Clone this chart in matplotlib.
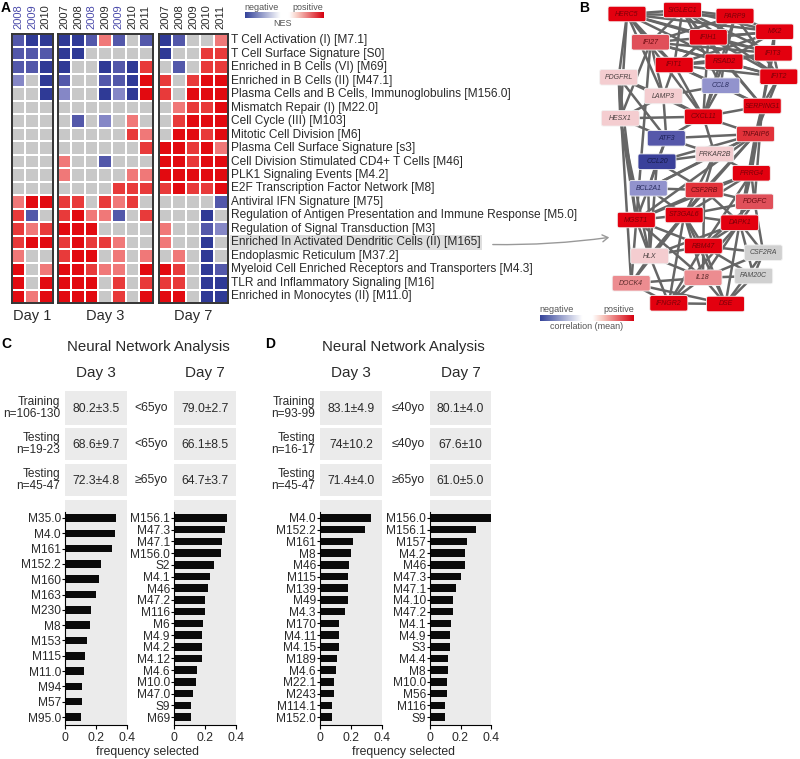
import numpy as np
import matplotlib
matplotlib.use('Agg')
import matplotlib.pyplot as plt
from matplotlib.colors import ListedColormap, BoundaryNorm, LinearSegmentedColormap
from matplotlib.patches import Rectangle, FancyBboxPatch, FancyArrowPatch

plt.rcParams['font.family'] = ['Liberation Sans', 'DejaVu Sans']

# ---------------- DATA ----------------
modules = [
    "T Cell Activation (I) [M7.1]",
    "T Cell Surface Signature [S0]",
    "Enriched in B Cells (VI) [M69]",
    "Enriched in B Cells (II) [M47.1]",
    "Plasma Cells and B Cells, Immunoglobulins [M156.0]",
    "Mismatch Repair (I) [M22.0]",
    "Cell Cycle (III) [M103]",
    "Mitotic Cell Division [M6]",
    "Plasma Cell Surface Signature [s3]",
    "Cell Division Stimulated CD4+ T Cells [M46]",
    "PLK1 Signaling Events [M4.2]",
    "E2F Transcription Factor Network [M8]",
    "Antiviral IFN Signature [M75]",
    "Regulation of Antigen Presentation and Immune Response [M5.0]",
    "Regulation of Signal Transduction [M3]",
    "Enriched In Activated Dendritic Cells (II) [M165]",
    "Endoplasmic Reticulum [M37.2]",
    "Myeloid Cell Enriched Receptors and Transporters [M4.3]",
    "TLR and Inflammatory Signaling [M16]",
    "Enriched in Monocytes (II) [M11.0]",
]
highlight_module = "Enriched In Activated Dendritic Cells (II) [M165]"

day1_years = ["2008", "2009", "2010"]
day3_years = ["2007", "2008", "2008", "2009", "2009", "2010", "2011"]
day7_years = ["2007", "2008", "2009", "2010", "2011"]
day1_blue_years = [True, True, False]
day3_blue_years = [False, False, True, False, True, False, False]
day7_blue_years = [False, False, False, False, False]

# NES level: -3 strong negative ... 0 not significant ... 3 strong positive
day1_nes = [
    [-2, -3, -3], [-2, -2, -2], [-2, -2, -3], [-1, 0, -3], [0, 0, -3],
    [0, 0, 0], [0, 0, 0], [0, 0, 0], [0, 0, 0], [0, 0, 0],
    [0, 0, 0], [0, 0, 0], [1, 3, 3], [2, -2, 0], [2, 1, 2],
    [2, 3, 3], [1, 0, 0], [3, 0, 1], [3, 0, 3], [3, 1, 3],
]
day3_nes = [
    [-3, -3, -2, 1, -2, 0, -2],
    [-3, -3, 0, 0, 0, 0, 0],
    [-3, 0, 0, -3, -2, -3, 2],
    [-2, 0, 0, -2, -2, -3, 3],
    [-1, 0, 0, -3, -1, -3, 3],
    [0, 0, 0, 0, 0, 0, 0],
    [0, -2, 0, -1, 0, 1, 0],
    [0, 0, 0, 0, 0, 2, 1],
    [0, 0, 0, 0, 0, 0, 2],
    [1, 0, 0, -2, 0, 0, 0],
    [1, 0, 0, 0, 0, 1, 1],
    [0, 0, 0, 0, 2, 2, 2],
    [2, 2, 0, 2, 1, 2, 0],
    [2, 3, 1, 1, -2, 0, 2],
    [3, 3, 3, 0, 0, 0, 0],
    [2, 3, 2, 2, 1, 0, 0],
    [2, 3, 3, 0, 1, 0, 1],
    [3, 3, 2, 1, 1, 0, 3],
    [3, 3, 3, 0, 2, 0, 2],
    [3, 3, 3, 0, 2, 0, 3],
]
day7_nes = [
    [-3, -2, 0, 0, 1], [-3, 0, 0, 2, 2], [0, -2, 0, 2, 2], [2, 0, 2, 3, 3],
    [2, 0, 3, 3, 3], [0, 1, 2, 2, 3], [0, 2, 3, 3, 3], [0, 3, 3, 2, 3],
    [3, 3, 2, 3, 1], [3, 3, 2, 3, 3], [3, 3, 3, 3, 3], [2, 3, 2, 2, 3],
    [0, 0, 0, 0, -2], [0, 0, 0, -3, 0], [1, 0, 0, -2, -1], [1, 0, 0, -3, 0],
    [0, 1, 0, -3, 0], [3, 2, 0, -3, -2], [2, 2, 0, -3, -3], [3, 3, 0, -3, -3],
]

# network (panel B): gene, correlation level
genes = ["HERC5", "SIGLEC1", "PARP9", "MX2", "IFI27", "IFIH1", "IFIT3", "IFIT1",
         "RSAD2", "PDGFRL", "IFIT2", "CCL8", "LAMP3", "SERPING1", "HESX1", "CXCL11",
         "TNFAIP6", "ATF3", "PRKAR2B", "CCL20", "PRRG4", "BCL2A1", "CSF2RB", "PDGFC",
         "MGST1", "ST3GAL6", "DAPK1", "RBM47", "CSF2RA", "HLX", "IL18", "FAM20C",
         "DOCK4", "IFNGR2", "DSE"]
gene_corr = ["R3", "R3", "R3", "R3", "R2", "R3", "R3", "R3",
             "R3", "P0", "R3", "B1", "P0", "R3", "P0", "R3",
             "R2b", "B2", "P0", "B3", "R3", "B1", "R2b", "R2",
             "R3", "R3", "R3", "R3", "G", "P0", "P1", "G",
             "P1", "R3", "R3"]
edges = [
    "HERC5-SIGLEC1", "HERC5-PARP9", "HERC5-MX2", "HERC5-IFIH1", "HERC5-IFIT1", "HERC5-RSAD2",
    "HERC5-IFIT3", "HERC5-IFI27", "HERC5-HESX1", "HERC5-PDGFRL", "HERC5-LAMP3", "HERC5-CXCL11",
    "SIGLEC1-PARP9", "SIGLEC1-MX2", "SIGLEC1-IFIT1", "SIGLEC1-RSAD2", "SIGLEC1-IFIT3",
    "SIGLEC1-IFI27", "SIGLEC1-SERPING1", "SIGLEC1-IFIT2", "SIGLEC1-CCL8",
    "PARP9-MX2", "PARP9-IFIH1", "PARP9-IFIT1", "PARP9-RSAD2", "PARP9-IFIT2", "PARP9-IFI27",
    "PARP9-CXCL11", "MX2-IFIH1", "MX2-IFIT1", "MX2-RSAD2", "MX2-IFIT3", "MX2-SERPING1",
    "MX2-IFI27", "IFI27-IFIT1", "IFI27-RSAD2", "IFI27-IFIT3", "IFI27-IFIT2", "IFI27-LAMP3",
    "IFIH1-IFIT3", "IFIH1-IFIT1", "IFIH1-RSAD2", "IFIH1-IFIT2", "IFIH1-CXCL11",
    "IFIT3-IFIT1", "IFIT3-RSAD2", "IFIT3-IFIT2", "IFIT3-SERPING1",
    "IFIT1-RSAD2", "IFIT1-IFIT2", "IFIT1-CCL8", "IFIT1-CXCL11", "IFIT1-LAMP3", "IFIT1-SERPING1",
    "RSAD2-IFIT2", "RSAD2-CCL8", "RSAD2-SERPING1", "RSAD2-CXCL11",
    "IFIT2-SERPING1", "IFIT2-TNFAIP6", "CCL8-CXCL11", "CCL8-SERPING1", "CCL8-LAMP3",
    "LAMP3-CXCL11", "LAMP3-HESX1", "LAMP3-ATF3", "LAMP3-PDGFRL",
    "PDGFRL-HESX1", "PDGFRL-CXCL11", "PDGFRL-MGST1", "PDGFRL-ATF3", "PDGFRL-DOCK4",
    "HESX1-CXCL11", "HESX1-ATF3", "HESX1-MGST1", "HESX1-HLX",
    "CXCL11-SERPING1", "CXCL11-TNFAIP6", "CXCL11-ATF3", "CXCL11-PRKAR2B",
    "SERPING1-TNFAIP6", "SERPING1-PRRG4", "SERPING1-DAPK1", "SERPING1-PDGFC",
    "TNFAIP6-PRKAR2B", "TNFAIP6-CSF2RB", "TNFAIP6-PRRG4", "TNFAIP6-ST3GAL6", "TNFAIP6-MGST1",
    "TNFAIP6-BCL2A1", "TNFAIP6-CCL20", "TNFAIP6-DAPK1", "TNFAIP6-ATF3",
    "ATF3-CCL20", "ATF3-PRKAR2B", "ATF3-BCL2A1",
    "CCL20-PRKAR2B", "CCL20-BCL2A1", "CCL20-CSF2RB", "CCL20-HLX",
    "PRKAR2B-PRRG4", "PRKAR2B-CSF2RB", "PRKAR2B-BCL2A1", "PRKAR2B-ST3GAL6",
    "PRRG4-CSF2RB", "PRRG4-PDGFC", "PRRG4-ST3GAL6", "PRRG4-MGST1", "PRRG4-DAPK1", "PRRG4-RBM47",
    "BCL2A1-CSF2RB", "BCL2A1-MGST1", "BCL2A1-ST3GAL6", "BCL2A1-HLX",
    "CSF2RB-ST3GAL6", "CSF2RB-MGST1", "CSF2RB-DAPK1", "CSF2RB-PDGFC", "CSF2RB-RBM47",
    "PDGFC-DAPK1", "PDGFC-ST3GAL6", "PDGFC-CSF2RA", "PDGFC-RBM47",
    "MGST1-ST3GAL6", "MGST1-HLX", "MGST1-RBM47", "MGST1-DOCK4", "MGST1-IL18",
    "ST3GAL6-DAPK1", "ST3GAL6-RBM47", "ST3GAL6-HLX", "ST3GAL6-IL18", "ST3GAL6-IFNGR2", "ST3GAL6-DSE",
    "DAPK1-RBM47", "DAPK1-CSF2RA", "DAPK1-IL18", "DAPK1-FAM20C", "DAPK1-DSE", "DAPK1-HLX",
    "RBM47-HLX", "RBM47-IL18", "RBM47-CSF2RA", "RBM47-DSE", "RBM47-IFNGR2", "RBM47-FAM20C",
    "HLX-DOCK4", "HLX-IL18", "HLX-IFNGR2", "HLX-CSF2RB",
    "IL18-DOCK4", "IL18-IFNGR2", "IL18-DSE", "IL18-FAM20C", "IL18-CSF2RA",
    "DOCK4-IFNGR2", "DOCK4-CSF2RB", "DOCK4-DSE", "IFNGR2-DSE", "IFNGR2-DAPK1",
    "DSE-FAM20C", "DSE-CSF2RA", "CSF2RA-FAM20C", "IFI27-MGST1", "IFI27-HESX1",
]

# Panel C / D tables
c_row_labels = ["Training\nn=106-130", "Testing\nn=19-23", "Testing\nn=45-47"]
c_day3_acc = ["80.2±3.5", "68.6±9.7", "72.3±4.8"]
c_age = ["<65yo", "<65yo", "≥65yo"]
c_day7_acc = ["79.0±2.7", "66.1±8.5", "64.7±3.7"]

d_row_labels = ["Training\nn=93-99", "Testing\nn=16-17", "Testing\nn=45-47"]
d_day3_acc = ["83.1±4.9", "74±10.2", "71.4±4.0"]
d_age = ["≤40yo", "≤40yo", "≥65yo"]
d_day7_acc = ["80.1±4.0", "67.6±10", "61.0±5.0"]

# frequency selected bars
c3_mods = ["M35.0", "M4.0", "M161", "M152.2", "M160", "M163", "M230", "M8", "M153",
           "M115", "M11.0", "M94", "M57", "M95.0"]
c3_freq = [0.33, 0.32, 0.30, 0.23, 0.22, 0.20, 0.17, 0.16, 0.14, 0.13, 0.12, 0.11, 0.11, 0.10]
c7_mods = ["M156.1", "M47.3", "M47.1", "M156.0", "S2", "M4.1", "M46", "M47.2", "M116",
           "M6", "M4.9", "M4.2", "M4.12", "M4.6", "M10.0", "M47.0", "S9", "M69"]
c7_freq = [0.34, 0.33, 0.31, 0.30, 0.26, 0.23, 0.22, 0.20, 0.20, 0.19, 0.18, 0.18, 0.18,
           0.15, 0.14, 0.12, 0.11, 0.11]
d3_mods = ["M4.0", "M152.2", "M161", "M8", "M46", "M115", "M139", "M49", "M4.3", "M170",
           "M4.11", "M4.15", "M189", "M4.6", "M22.1", "M243", "M114.1", "M152.0"]
d3_freq = [0.33, 0.29, 0.21, 0.20, 0.19, 0.18, 0.18, 0.18, 0.16, 0.12, 0.12, 0.12, 0.11,
           0.10, 0.09, 0.09, 0.08, 0.08]
d7_mods = ["M156.0", "M156.1", "M157", "M4.2", "M46", "M47.3", "M47.1", "M4.10", "M47.2",
           "M4.1", "M4.9", "S3", "M4.4", "M8", "M10.0", "M56", "M116", "S9"]
d7_freq = [0.40, 0.30, 0.24, 0.23, 0.23, 0.20, 0.17, 0.15, 0.15, 0.14, 0.13, 0.13, 0.12,
           0.12, 0.11, 0.11, 0.10, 0.10]

# ---------------- STYLE / LAYOUT ----------------
W, H = 800, 759
TXT = '#2a2a2a'
fig = plt.figure(figsize=(8, 7.59), dpi=100)


def add_ax(x0, y0, x1, y1, **kw):
    return fig.add_axes([x0 / W, 1 - y1 / H, (x1 - x0) / W, (y1 - y0) / H], **kw)


def ftext(x, y, s, **kw):
    kw.setdefault('color', TXT)
    return fig.text(x / W, 1 - y / H, s, **kw)


def frect(x0, y0, x1, y1, color):
    fig.add_artist(Rectangle((x0 / W, 1 - y1 / H), (x1 - x0) / W, (y1 - y0) / H,
                             transform=fig.transFigure, facecolor=color,
                             edgecolor='none', zorder=0))


# ---------------- PANEL A ----------------
nes_colors = ['#2f3a96', '#5358aa', '#8587c6', '#c8c8c8', '#f07878', '#e83a3a', '#e20a10']
nes_cmap = ListedColormap(nes_colors)
nes_norm = BoundaryNorm(np.arange(-3.5, 4.5, 1), nes_cmap.N)

blocks = [
    ((11.7, 52.7), day1_nes, day1_years, day1_blue_years, "Day 1"),
    ((57.7, 152.7), day3_nes, day3_years, day3_blue_years, "Day 3"),
    ((158.5, 227.5), day7_nes, day7_years, day7_blue_years, "Day 7"),
]
hm_top, hm_bot = 33.5, 303.0
for (x0, x1), vals, years, blues, dlabel in blocks:
    ax = add_ax(x0, hm_top, x1, hm_bot)
    arr = np.array(vals)
    ax.pcolormesh(arr, cmap=nes_cmap, norm=nes_norm, edgecolors='white', linewidth=1.1)
    ax.set_xlim(0, arr.shape[1])
    ax.set_ylim(arr.shape[0], 0)
    ax.set_xticks([]); ax.set_yticks([])
    for sp in ax.spines.values():
        sp.set_color('#333333'); sp.set_linewidth(1.4)
    cw = (x1 - x0) / arr.shape[1]
    for j, (yr, bl) in enumerate(zip(years, blues)):
        ftext(x0 + cw * (j + 0.5), 29, yr, rotation=90, ha='center', va='bottom',
              fontsize=8, color='#4b4bab' if bl else TXT)
    ftext((x0 + x1) / 2, 316, dlabel, ha='center', va='center', fontsize=10.5)

row_h = (hm_bot - hm_top) / len(modules)
for i, m in enumerate(modules):
    kw = {}
    if m == highlight_module:
        kw['bbox'] = dict(boxstyle='square,pad=0.12', fc='#dedede', ec='none')
    ftext(231, hm_top + row_h * (i + 0.5), m, ha='left', va='center', fontsize=8.6, **kw)

# NES legend
grad_cmap = LinearSegmentedColormap.from_list(
    'nes', [(0, '#34439a'), (0.45, '#ffffff'), (0.56, '#ffffff'), (0.66, '#f8cdc4'), (1, '#d6000f')])
lax = add_ax(245, 12, 323, 18)
lax.imshow(np.linspace(0, 1, 256)[None, :], aspect='auto', cmap=grad_cmap)
lax.axis('off')
ftext(262, 7, "negative", ha='center', va='center', fontsize=6.5, color='#555555')
ftext(308, 7, "positive", ha='center', va='center', fontsize=6.5, color='#555555')
ftext(283, 24, "NES", ha='center', va='center', fontsize=6.5, color='#555555')

ftext(6, 8, "A", ha='center', va='center', fontsize=10, fontweight='bold', color='black')

# ---------------- PANEL B ----------------
node_pos = {
    "HERC5": (627, 14), "SIGLEC1": (682.5, 10), "PARP9": (735, 16), "MX2": (774.7, 31.7),
    "IFI27": (650.5, 42.3), "IFIH1": (708.3, 37.3), "IFIT3": (773.3, 53.3), "IFIT1": (674.2, 65),
    "RSAD2": (724, 61.7), "PDGFRL": (618.7, 77.3), "IFIT2": (778.8, 76.7), "CCL8": (720.8, 85.7),
    "LAMP3": (663.3, 96), "SERPING1": (762.2, 106), "HESX1": (620.3, 118.3), "CXCL11": (703.3, 116.7),
    "TNFAIP6": (755.5, 134), "ATF3": (666.3, 138.3), "PRKAR2B": (714.7, 154), "CCL20": (657, 161.7),
    "PRRG4": (751.3, 173.3), "BCL2A1": (648.3, 188.3), "CSF2RB": (704.2, 190), "PDGFC": (754.5, 201.7),
    "MGST1": (636.3, 220), "ST3GAL6": (684.2, 215), "DAPK1": (739.7, 222.7), "RBM47": (703.3, 246),
    "CSF2RA": (763.3, 252.7), "HLX": (649.7, 256), "IL18": (703, 277.7), "FAM20C": (753.7, 276),
    "DOCK4": (631.2, 283.3), "IFNGR2": (668.8, 303.3), "DSE": (725.5, 304),
}
node_fill = {'R3': '#e3000f', 'R2': '#e0505a', 'R2b': '#e2323a', 'P1': '#ec8c90',
             'P0': '#f4cdd0', 'B1': '#9293cd', 'B2': '#5658aa', 'B3': '#3a409a', 'G': '#d0d0d0'}
node_txt = {'R3': '#7d0008', 'R2': '#6a0a10', 'R2b': '#6a0a10', 'P1': '#5a2a2a',
            'P0': '#4a4040', 'B1': '#2a2d60', 'B2': '#1e2258', 'B3': '#161a48', 'G': '#4a4a4a'}

nax = add_ax(580, 0, 800, 320)
nax.set_xlim(580, 800); nax.set_ylim(320, 0)
nax.axis('off')
for e in edges:
    a, b = e.split('-')
    (xa, ya), (xb, yb) = node_pos[a], node_pos[b]
    nax.plot([xa, xb], [ya, yb], color='#666666', lw=1.8, solid_capstyle='round', zorder=1)
bw, bh = 38, 15.5
for g, c in zip(genes, gene_corr):
    x, y = node_pos[g]
    nax.add_patch(FancyBboxPatch((x - bw / 2, y - bh / 2), bw, bh,
                                 boxstyle='round,pad=0,rounding_size=2',
                                 fc=node_fill[c], ec='#f2f2f2', lw=0.6, zorder=3))
    nax.text(x, y, g, ha='center', va='center', fontsize=5, style='italic',
             color=node_txt[c], zorder=4)

bax = add_ax(540, 315, 634, 321)
bax.imshow(np.linspace(0, 1, 256)[None, :], aspect='auto', cmap=grad_cmap)
bax.axis('off')
ftext(557, 309, "negative", ha='center', va='center', fontsize=6.5, color='#555555')
ftext(619, 309, "positive", ha='center', va='center', fontsize=6.5, color='#555555')
ftext(587, 327, "correlation (mean)", ha='center', va='center', fontsize=6.5, color='#555555')

fig.add_artist(FancyArrowPatch((490 / W, 1 - 244.5 / H), (612 / W, 1 - 237 / H),
                               transform=fig.transFigure, arrowstyle='->,head_length=4,head_width=2.5',
                               connectionstyle='arc3,rad=0.04', color='#999999', lw=1.0))
ftext(584, 8, "B", ha='center', va='center', fontsize=10, fontweight='bold', color='black')

# ---------------- PANELS C / D ----------------
row_spans = [(391, 424.5), (428, 460), (464, 496)]


def table_panel(letter, lx, lab_right, box1, age_x, box2, title_x,
                row_labels, acc3, ages, acc7):
    ftext(lx, 344, letter, ha='center', va='center', fontsize=10, fontweight='bold', color='black')
    ftext(title_x, 347, "Neural Network Analysis", ha='center', va='center', fontsize=10.8)
    ftext((box1[0] + box1[1]) / 2, 373, "Day 3", ha='center', va='center', fontsize=11)
    ftext((box2[0] + box2[1]) / 2, 373, "Day 7", ha='center', va='center', fontsize=11)
    for (y0, y1), rl, a3, ag, a7 in zip(row_spans, row_labels, acc3, ages, acc7):
        yc = (y0 + y1) / 2
        frect(box1[0], y0, box1[1], y1, '#ebebeb')
        frect(box2[0], y0, box2[1], y1, '#ebebeb')
        ftext(lab_right, yc, rl, ha='right', va='center', fontsize=8.6, linespacing=1.05)
        ftext((box1[0] + box1[1]) / 2, yc + 1, a3, ha='center', va='center', fontsize=8.8)
        ftext(age_x, yc, ag, ha='center', va='center', fontsize=8.8)
        ftext((box2[0] + box2[1]) / 2, yc + 1, a7, ha='center', va='center', fontsize=8.8)


def bar_panel(x0, x1, labels, vals):
    ax_top, ax_bot = 500, 725
    first, last = 518, 717
    ax = add_ax(x0, ax_top, x1, ax_bot)
    ax.set_facecolor('#ebebeb')
    n = len(labels)
    step = (last - first) / (n - 1)
    top = -(first - ax_top) / step
    bottom = (n - 1) + (ax_bot - last) / step
    ax.barh(np.arange(n), vals, height=7.5 / step, color='#0a0a0a')
    ax.set_ylim(bottom, top)
    ax.set_xlim(0, 0.4)
    ax.set_yticks(np.arange(n))
    ax.set_yticklabels(labels, fontsize=8.6, color=TXT)
    ax.set_xticks([0, 0.2, 0.4])
    ax.set_xticklabels(['0', '0.2', '0.4'], fontsize=8.8, color=TXT)
    ax.tick_params(axis='y', length=2, width=0.8, pad=1)
    ax.tick_params(axis='x', length=3, width=0.8, pad=2)
    for s in ['top', 'right']:
        ax.spines[s].set_visible(False)
    ax.spines['left'].set_bounds(bottom, top + 12 / step)
    for s in ['left', 'bottom']:
        ax.spines[s].set_linewidth(0.8)
    return ax


table_panel("C", 6, 60, (65, 127), 151, (174, 236), 148,
            c_row_labels, c_day3_acc, c_age, c_day7_acc)
bar_panel(65, 127, c3_mods, c3_freq)
bar_panel(174, 236, c7_mods, c7_freq)
ftext(148, 752, "frequency selected", ha='center', va='center', fontsize=8.8)

table_panel("D", 270, 315, (320, 382), 408, (430, 491), 403,
            d_row_labels, d_day3_acc, d_age, d_day7_acc)
bar_panel(320, 382, d3_mods, d3_freq)
bar_panel(430, 491, d7_mods, d7_freq)
ftext(404, 752, "frequency selected", ha='center', va='center', fontsize=8.8)

fig.savefig('out.png', dpi=100)
